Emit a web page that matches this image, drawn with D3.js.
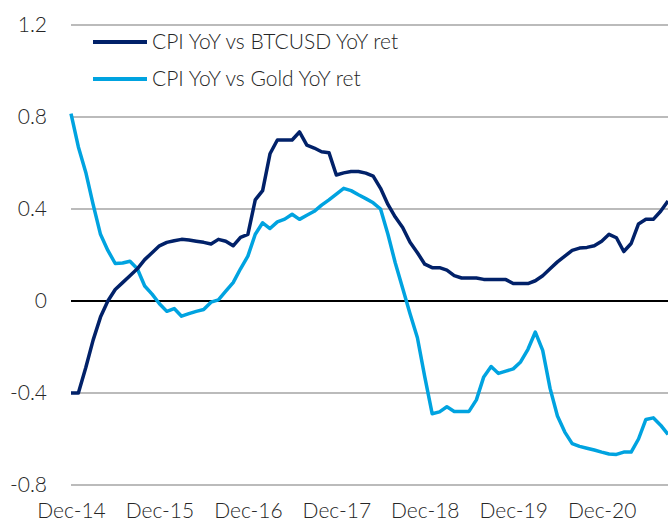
<!DOCTYPE html>
<html>
<head>
<meta charset="utf-8">
<script src="https://cdn.jsdelivr.net/npm/d3@7"></script>
<style>
  body { margin: 0; background: #fff; }
  text { font-family: Lato, "Open Sans", sans-serif; font-weight: 300; fill: #262626; }
</style>
</head>
<body>
<script>
// monthly observations, Dec-14 .. Sep-21
var months = d3.timeMonth.range(new Date(2014, 11, 1), new Date(2021, 9, 1));

var btcCorr = [
  -0.40, -0.40, -0.29, -0.17, -0.07, 0.00, 0.05, 0.08, 0.11, 0.14,
  0.18, 0.21, 0.24, 0.255, 0.262, 0.268, 0.265, 0.26, 0.255, 0.248,
  0.268, 0.26, 0.24, 0.277, 0.29, 0.44, 0.48, 0.64, 0.70, 0.70,
  0.70, 0.735, 0.678, 0.665, 0.649, 0.645, 0.548, 0.557, 0.563, 0.563,
  0.556, 0.543, 0.49, 0.42, 0.365, 0.32, 0.255, 0.21, 0.16, 0.145,
  0.145, 0.134, 0.11, 0.10, 0.10, 0.10, 0.094, 0.093, 0.093, 0.093,
  0.076, 0.076, 0.076, 0.088, 0.11, 0.14, 0.17, 0.195, 0.22, 0.23,
  0.233, 0.24, 0.26, 0.29, 0.275, 0.215, 0.25, 0.335, 0.355, 0.355,
  0.39, 0.435
];

var goldCorr = [
  0.815, 0.67, 0.56, 0.42, 0.29, 0.22, 0.163, 0.165, 0.173, 0.14,
  0.065, 0.03, -0.012, -0.045, -0.033, -0.066, -0.055, -0.045, -0.037, -0.005,
  0.005, 0.043, 0.08, 0.14, 0.195, 0.29, 0.34, 0.315, 0.344, 0.356,
  0.377, 0.355, 0.373, 0.39, 0.417, 0.44, 0.465, 0.49, 0.48, 0.462,
  0.445, 0.427, 0.40, 0.29, 0.165, 0.055, -0.055, -0.16, -0.33, -0.49,
  -0.482, -0.46, -0.48, -0.48, -0.48, -0.43, -0.33, -0.285, -0.315, -0.305,
  -0.295, -0.265, -0.21, -0.135, -0.215, -0.38, -0.50, -0.57, -0.62, -0.632,
  -0.64, -0.648, -0.657, -0.665, -0.667, -0.657, -0.657, -0.60, -0.515, -0.508,
  -0.54, -0.58
];

var seriesNames = ["CPI YoY vs BTCUSD YoY ret", "CPI YoY vs Gold YoY ret"];
var seriesColors = ["#012169", "#00a3e0"];
var yTicks = [-0.8, -0.4, 0, 0.4, 0.8, 1.2];
var xTickLabels = ["Dec-14", "Dec-15", "Dec-16", "Dec-17", "Dec-18", "Dec-19", "Dec-20"];

var width = 668, height = 524;
var margin = {top: 25, right: 0, bottom: 39, left: 71};

var svg = d3.select("body").append("svg")
            .attr("width", width)
            .attr("height", height);

var x = d3.scaleLinear()
          .domain([0, months.length - 1])
          .range([margin.left, width - margin.right]);

var y = d3.scaleLinear()
          .domain([-0.8, 1.2])
          .range([height - margin.bottom, margin.top]);

// gridlines
svg.append("g").selectAll("line")
   .data(yTicks)
   .enter()
   .append("line")
   .attr("x1", margin.left)
   .attr("x2", width - margin.right)
   .attr("y1", function(d) { return y(d); })
   .attr("y2", function(d) { return y(d); })
   .style("stroke", function(d) { return d === 0 ? "#000" : "#bbb"; })
   .style("stroke-width", 2);

// y axis labels (plain hyphen for negatives, like the original)
var yAxis = d3.axisLeft(y)
              .tickValues(yTicks)
              .tickSize(0)
              .tickPadding(24)
              .tickFormat(function(d) { return d === 0 ? "0" : d.toFixed(1); });

svg.append("g")
   .attr("transform", "translate(" + margin.left + ",0)")
   .call(yAxis)
   .call(function(g) { g.select(".domain").remove(); })
   .selectAll("text")
   .style("font-size", "21px")
   .style("font-family", "Lato, sans-serif")
   .style("font-weight", 300)
   .style("fill", "#262626");

// x axis labels, every 12 months
var xAxis = d3.axisBottom(x)
              .tickValues(d3.range(0, months.length, 12))
              .tickSize(0)
              .tickPadding(0)
              .tickFormat(function(d, i) { return xTickLabels[i]; });

svg.append("g")
   .attr("transform", "translate(0,503)")
   .call(xAxis)
   .call(function(g) { g.select(".domain").remove(); })
   .selectAll("text")
   .style("font-size", "21px")
   .style("font-family", "Lato, sans-serif")
   .style("font-weight", 300)
   .style("fill", "#262626");

var line = d3.line()
             .x(function(d, i) { return x(i); })
             .y(function(d) { return y(d); });

svg.append("path")
   .datum(goldCorr)
   .attr("d", line)
   .style("fill", "none")
   .style("stroke", seriesColors[1])
   .style("stroke-width", 3.5)
   .style("stroke-linejoin", "round");

svg.append("path")
   .datum(btcCorr)
   .attr("d", line)
   .style("fill", "none")
   .style("stroke", seriesColors[0])
   .style("stroke-width", 3.5)
   .style("stroke-linejoin", "round");

// legend
var legend = svg.selectAll(".legend")
                .data(seriesNames)
                .enter()
                .append("g")
                .attr("class", "legend")
                .attr("transform", function(d, i) { return "translate(93," + (42 + i * 37) + ")"; });

legend.append("line")
      .attr("x1", 0)
      .attr("x2", 54)
      .style("stroke", function(d, i) { return seriesColors[i]; })
      .style("stroke-width", 4);

legend.append("text")
      .attr("x", 59)
      .attr("y", 7)
      .style("font-size", "21px")
      .text(function(d) { return d; });
</script>
</body>
</html>
